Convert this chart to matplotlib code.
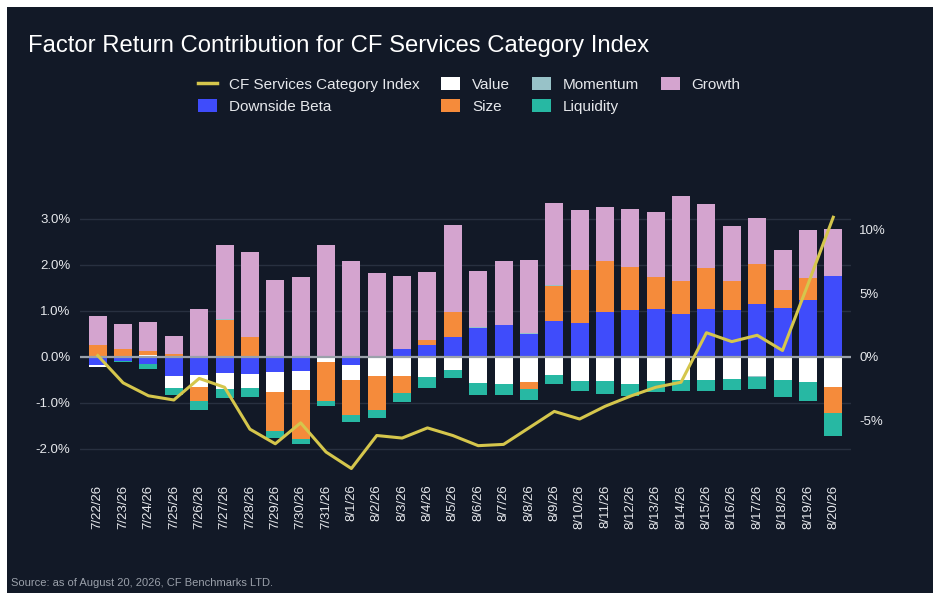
import matplotlib
matplotlib.use("Agg")
import matplotlib.pyplot as plt
import numpy as np
from matplotlib.patches import Patch, Rectangle
from matplotlib.lines import Line2D

plt.rcParams['font.family'] = ['Liberation Sans', 'DejaVu Sans']

# data (percent)
dates = ['7/22/26', '7/23/26', '7/24/26', '7/25/26', '7/26/26', '7/27/26', '7/28/26',
         '7/29/26', '7/30/26', '7/31/26', '8/1/26', '8/2/26', '8/3/26', '8/4/26',
         '8/5/26', '8/6/26', '8/7/26', '8/8/26', '8/9/26', '8/10/26', '8/11/26',
         '8/12/26', '8/13/26', '8/14/26', '8/15/26', '8/16/26', '8/17/26', '8/18/26',
         '8/19/26', '8/20/26']

downside_beta = [-0.17, -0.09, -0.15, -0.41, -0.39, -0.35, -0.37, -0.33, -0.30, 0.0,
                 -0.17, 0.02, 0.17, 0.26, 0.43, 0.63, 0.70, 0.50, 0.78, 0.74,
                 0.98, 1.02, 1.04, 0.93, 1.04, 1.02, 1.15, 1.07, 1.24, 1.76]
value = [-0.04, 0.02, 0.03, -0.26, -0.26, -0.35, -0.30, -0.43, -0.41, -0.11,
         -0.33, -0.41, -0.41, -0.43, -0.28, -0.57, -0.59, -0.54, -0.39, -0.52,
         -0.52, -0.59, -0.52, -0.50, -0.50, -0.48, -0.41, -0.50, -0.54, -0.65]
size = [0.26, 0.15, 0.10, 0.065, -0.30, 0.81, 0.43, -0.85, -1.07, -0.85,
        -0.76, -0.74, -0.37, 0.11, 0.54, 0.0, 0.0, -0.15, 0.76, 1.15,
        1.11, 0.93, 0.70, 0.72, 0.89, 0.63, 0.87, 0.39, 0.48, -0.57]
momentum = [0.0, 0.0, 0.0, 0.0, 0.0, 0.01, 0.0, 0.02, 0.02, 0.02,
            0.01, 0.0, 0.0, 0.0, 0.01, 0.01, 0.0, 0.01, 0.01, 0.0,
            0.0, 0.0, 0.0, 0.0, 0.0, 0.0, -0.02, 0.0, 0.0, 0.0]
liquidity = [0.0, -0.02, -0.11, -0.15, -0.20, -0.20, -0.20, -0.15, -0.11, -0.11,
             -0.15, -0.17, -0.20, -0.24, -0.17, -0.26, -0.24, -0.24, -0.20, -0.22,
             -0.28, -0.26, -0.24, -0.24, -0.24, -0.24, -0.26, -0.37, -0.41, -0.50]
growth = [0.63, 0.54, 0.63, 0.39, 1.04, 1.60, 1.85, 1.65, 1.72, 2.41,
          2.07, 1.80, 1.59, 1.48, 1.89, 1.22, 1.39, 1.59, 1.80, 1.30,
          1.17, 1.26, 1.41, 1.85, 1.39, 1.20, 1.00, 0.85, 1.04, 1.02]
index_return = [0.1, -2.05, -3.07, -3.4, -1.7, -2.4, -5.7, -6.85, -5.2, -7.5,
                -8.8, -6.2, -6.4, -5.6, -6.2, -7.0, -6.9, -5.6, -4.3, -4.9,
                -3.9, -3.1, -2.4, -2.0, 1.9, 1.2, 1.7, 0.5, 5.7, 11.0]

BG = '#121927'
factors = [('Downside Beta', downside_beta, '#3f4cfb'),
           ('Value', value, '#ffffff'),
           ('Size', size, '#f58b3b'),
           ('Momentum', momentum, '#98c2c8'),
           ('Liquidity', liquidity, '#27b8a3'),
           ('Growth', growth, '#d4a4cf')]

fig = plt.figure(figsize=(9.4, 6), dpi=100, facecolor='white')
# dark card with a thin white margin around it
fig.patches.append(Rectangle((7 / 940, 7 / 600), 926 / 940, 586 / 600,
                             transform=fig.transFigure, facecolor=BG,
                             edgecolor='none', zorder=-10))

ax = fig.add_axes([80 / 940, 1 - 472 / 600, 771 / 940, 281 / 600])
ax.set_facecolor('none')
x = np.arange(len(dates))

# stack positives and negatives separately
pos_bottom = np.zeros(len(dates))
neg_bottom = np.zeros(len(dates))
for name, vals, col in factors:
    v = np.array(vals)
    bottom = np.where(v >= 0, pos_bottom, neg_bottom)
    ax.bar(x, v, width=0.71, bottom=bottom, color=col, linewidth=0, zorder=2)
    pos_bottom += np.where(v >= 0, v, 0)
    neg_bottom += np.where(v < 0, v, 0)

ax.axhline(0, color='#9aa1ab', linewidth=1.6, zorder=3)
ax.set_xlim(-0.7, len(dates) - 0.3)
ax.set_ylim(-2.5, 3.6)
ax.set_yticks([-2, -1, 0, 1, 2, 3])
ax.set_yticklabels(['%.1f%%' % t for t in [-2, -1, 0, 1, 2, 3]])
ax.grid(axis='y', color='#283040', linewidth=1, zorder=0)
ax.set_axisbelow(True)
ax.set_xticks(x)
ax.set_xticklabels(dates, rotation=90)
ax.tick_params(axis='x', length=0, pad=9, labelsize=9.5, colors='#e6e8ec')
ax.tick_params(axis='y', length=0, pad=7, labelsize=9.5, colors='#e6e8ec')
for s in ax.spines.values():
    s.set_visible(False)

# index return on the right axis, zero aligned with the left one
ax2 = ax.twinx()
ax2.plot(x, index_return, color='#d5c64c', linewidth=2.2, zorder=4)
ax2.set_ylim(-2.5 * 3.63, 3.6 * 3.63)
ax2.set_yticks([-5, 0, 5, 10])
ax2.set_yticklabels(['-5%', '0%', '5%', '10%'])
ax2.tick_params(axis='y', length=0, pad=6, labelsize=9.5, colors='#e6e8ec')
for s in ax2.spines.values():
    s.set_visible(False)

fig.text(28 / 940, 1 - 52 / 600, 'Factor Return Contribution for CF Services Category Index',
         color='white', fontsize=17.2, va='baseline', ha='left')

handles = [Line2D([0], [0], color='#d5c64c', linewidth=2.5)]
labels = ['CF Services Category Index']
for name, vals, col in factors:
    handles.append(Patch(facecolor=col, edgecolor='none'))
    labels.append(name)
leg = fig.legend(handles, labels, ncol=4, loc='upper left',
                 bbox_to_anchor=(198 / 940, 1 - 77 / 600), frameon=False,
                 fontsize=11, handlelength=1.25, handleheight=0.9,
                 handletextpad=0.75, columnspacing=1.45, labelspacing=0.5,
                 borderpad=0, borderaxespad=0)
for t in leg.get_texts():
    t.set_color('#e6e8ec')

fig.text(11 / 940, 1 - 583 / 600, 'Source: as of August 20, 2026, CF Benchmarks LTD.',
         color='#9aa0aa', fontsize=8, va='center', ha='left')

fig.savefig('out.png', dpi=100, facecolor='white')
